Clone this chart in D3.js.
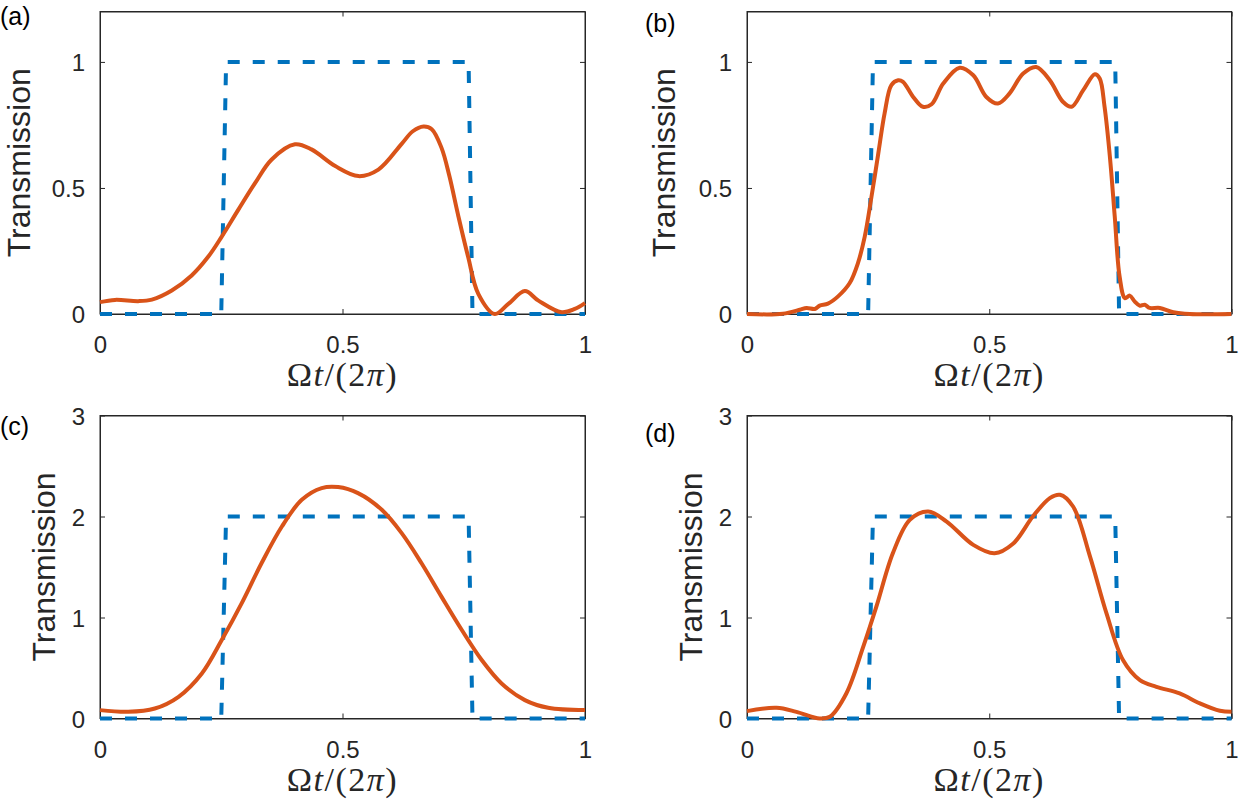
<!DOCTYPE html>
<html>
<head>
<meta charset="utf-8">
<script src="https://cdn.jsdelivr.net/npm/d3@7/dist/d3.min.js"></script>
<style>
  body { margin: 0; background: #fff; }
  svg { display: block; }
</style>
</head>
<body>
<div id="vis-container"></div>
<script>
// ---- data ----
var xTicks = [0, 0.5, 1]
var xTickLabels = ['0', '0.5', '1']
var yTicksTop = [0, 0.5, 1]
var yTickLabelsTop = ['0', '0.5', '1']
var yTicksBottom = [0, 1, 2, 3]
var yTickLabelsBottom = ['0', '1', '2', '3']
var panelNames = ['(a)', '(b)', '(c)', '(d)']
var yLabelText = 'Transmission'

// dashed target pulse
var stepT = [0, 0.25, 0.26, 0.76, 0.768, 1]
var stepTop = [0, 0, 1, 1, 0, 0]
var stepBottom = [0, 0, 2, 2, 0, 0]

// (a)
var tA = [0, 0.031, 0.079, 0.107, 0.148, 0.189, 0.223, 0.251, 0.285, 0.32, 0.354, 0.402, 0.436, 0.485, 0.533, 0.574, 0.622, 0.645, 0.667, 0.684, 0.704, 0.72, 0.739, 0.759, 0.78, 0.814, 0.842, 0.876, 0.904, 0.952, 0.979, 1]
var vA = [0.047, 0.056, 0.051, 0.057, 0.093, 0.153, 0.227, 0.307, 0.413, 0.52, 0.613, 0.673, 0.653, 0.587, 0.547, 0.573, 0.675, 0.725, 0.744, 0.733, 0.66, 0.55, 0.387, 0.227, 0.08, 0.0, 0.04, 0.091, 0.053, 0.007, 0.02, 0.043]

// (b)
var tB = [0, 0.074, 0.109, 0.123, 0.14, 0.15, 0.167, 0.188, 0.212, 0.229, 0.243, 0.257, 0.271, 0.284, 0.298, 0.312, 0.322, 0.343, 0.363, 0.381, 0.405, 0.439, 0.467, 0.494, 0.518, 0.542, 0.57, 0.597, 0.625, 0.652, 0.67, 0.694, 0.718, 0.728, 0.738, 0.749, 0.759, 0.769, 0.78, 0.79, 0.8, 0.811, 0.821, 0.831, 0.852, 0.88, 0.914, 1]
var vB = [0, 0.001, 0.017, 0.024, 0.02, 0.033, 0.041, 0.07, 0.123, 0.202, 0.307, 0.466, 0.637, 0.796, 0.908, 0.927, 0.921, 0.861, 0.822, 0.832, 0.914, 0.977, 0.947, 0.861, 0.835, 0.875, 0.954, 0.98, 0.927, 0.842, 0.822, 0.888, 0.951, 0.934, 0.822, 0.624, 0.387, 0.149, 0.063, 0.073, 0.05, 0.033, 0.037, 0.024, 0.024, 0.007, 0, 0]

// (c)
var tC = [0, 0.058, 0.113, 0.162, 0.21, 0.251, 0.292, 0.333, 0.375, 0.416, 0.457, 0.491, 0.532, 0.581, 0.622, 0.663, 0.704, 0.746, 0.787, 0.828, 0.876, 0.924, 1]
var vC = [0.083, 0.066, 0.099, 0.215, 0.446, 0.777, 1.14, 1.537, 1.901, 2.165, 2.281, 2.291, 2.231, 2.066, 1.835, 1.537, 1.207, 0.876, 0.579, 0.347, 0.182, 0.106, 0.083]

// (d)
var tD = [0, 0.061, 0.102, 0.15, 0.171, 0.205, 0.24, 0.267, 0.301, 0.336, 0.374, 0.412, 0.467, 0.511, 0.549, 0.59, 0.625, 0.646, 0.673, 0.708, 0.742, 0.776, 0.811, 0.845, 0.893, 0.935, 0.976, 1]
var vD = [0.073, 0.106, 0.066, 0, 0.017, 0.248, 0.711, 1.107, 1.636, 1.967, 2.05, 1.95, 1.719, 1.636, 1.73, 2.0, 2.182, 2.215, 2.099, 1.603, 1.041, 0.579, 0.38, 0.314, 0.248, 0.149, 0.076, 0.066]

// ---- layout ----
var W = 1240, H = 805
var axisColor = '#262626'
var blue = '#0072BD', orange = '#D95319'

var panels = [
  { name: panelNames[0], left: 100, right: 585, top: 11.5, bottom: 314, ymax: 1.2, yt: yTicksTop, ytl: yTickLabelsTop, step: stepTop, t: tA, v: vA, lx: 0, ly: 25, ylabOff: -70 },
  { name: panelNames[1], left: 747, right: 1231.5, top: 11.5, bottom: 314, ymax: 1.2, yt: yTicksTop, ytl: yTickLabelsTop, step: stepTop, t: tB, v: vB, lx: 645, ly: 32, ylabOff: -72 },
  { name: panelNames[2], left: 100, right: 585, top: 415.5, bottom: 718.5, ymax: 3, yt: yTicksBottom, ytl: yTickLabelsBottom, step: stepBottom, t: tC, v: vC, lx: 0, ly: 435, ylabOff: -45 },
  { name: panelNames[3], left: 747, right: 1231.5, top: 415.5, bottom: 718.5, ymax: 3, yt: yTicksBottom, ytl: yTickLabelsBottom, step: stepBottom, t: tD, v: vD, lx: 645, ly: 442, ylabOff: -45 }
]

var svg = d3.select('#vis-container').append('svg')
    .attr('width', W)
    .attr('height', H)

svg.append('rect').attr('width', W).attr('height', H).attr('fill', '#fff')

panels.forEach(function (p) {
  var xScale = d3.scaleLinear().domain([0, 1]).range([p.left, p.right])
  var yScale = d3.scaleLinear().domain([0, p.ymax]).range([p.bottom, p.top])
  var g = svg.append('g')

  // box
  g.append('rect')
    .attr('x', p.left).attr('y', p.top)
    .attr('width', p.right - p.left).attr('height', p.bottom - p.top)
    .attr('fill', 'none')
    .attr('stroke', axisColor)
    .attr('stroke-width', 1)

  // axes with inward ticks
  var xAxis = g.append('g')
      .attr('transform', 'translate(0,' + p.bottom + ')')
      .call(d3.axisBottom(xScale).tickValues(xTicks).tickFormat(function (d, i) { return xTickLabels[i] }).tickSize(-5).tickSizeOuter(0))
  xAxis.selectAll('text').attr('y', 39).attr('dy', null)

  g.append('g')
      .attr('transform', 'translate(0,' + p.top + ')')
      .call(d3.axisTop(xScale).tickValues(xTicks).tickFormat('').tickSize(-5).tickSizeOuter(0))

  var yAxis = g.append('g')
      .attr('transform', 'translate(' + p.left + ',0)')
      .call(d3.axisLeft(yScale).tickValues(p.yt).tickFormat(function (d, i) { return p.ytl[i] }).tickSize(-5).tickSizeOuter(0).tickPadding(15))
  yAxis.selectAll('text').attr('dy', '0.36em')

  g.append('g')
      .attr('transform', 'translate(' + p.right + ',0)')
      .call(d3.axisRight(yScale).tickValues(p.yt).tickFormat('').tickSize(-5).tickSizeOuter(0))

  g.selectAll('.domain').attr('stroke', axisColor)
  g.selectAll('.tick line').attr('stroke', axisColor)
  g.selectAll('.tick text')
    .attr('fill', axisColor)
    .style('font-family', '"Liberation Sans", Arial, sans-serif')
    .style('font-size', '24px')

  // dashed pulse
  var stepData = stepT.map(function (t, i) { return [t, p.step[i]] })
  g.append('path')
    .datum(stepData)
    .attr('d', d3.line().x(function (d) { return xScale(d[0]) }).y(function (d) { return yScale(d[1]) }))
    .attr('fill', 'none')
    .attr('stroke', blue)
    .attr('stroke-width', 4)
    .attr('stroke-dasharray', '12,13')

  // transmission curve
  var curveData = p.t.map(function (t, i) { return [t, p.v[i]] })
  g.append('path')
    .datum(curveData)
    .attr('d', d3.line().curve(d3.curveCatmullRom.alpha(0.5)).x(function (d) { return xScale(d[0]) }).y(function (d) { return yScale(d[1]) }))
    .attr('fill', 'none')
    .attr('stroke', orange)
    .attr('stroke-width', 4)
    .attr('stroke-linejoin', 'round')

  // y label
  g.append('text')
    .attr('transform', 'translate(' + (p.left + p.ylabOff) + ',' + ((p.top + p.bottom) / 2) + ') rotate(-90)')
    .attr('text-anchor', 'middle')
    .attr('fill', axisColor)
    .style('font-family', '"Liberation Sans", Arial, sans-serif')
    .style('font-size', '32px')
    .text(yLabelText)

  // x label  Ωt/(2π)
  var xl = g.append('text')
    .attr('x', (p.left + p.right) / 2)
    .attr('y', p.bottom + 72)
    .attr('text-anchor', 'middle')
    .attr('fill', axisColor)
    .style('font-family', '"Liberation Serif", "DejaVu Serif", serif')
    .style('font-size', '34px')
    .style('letter-spacing', '1.5px')
  xl.append('tspan').text('\u03A9')
  xl.append('tspan').style('font-style', 'italic').text('t')
  xl.append('tspan').text('/(2')
  xl.append('tspan').style('font-style', 'italic').text('\u03C0')
  xl.append('tspan').text(')')

  // panel label
  svg.append('text')
    .attr('x', p.lx)
    .attr('y', p.ly)
    .attr('fill', '#000')
    .style('font-family', '"Liberation Sans", Arial, sans-serif')
    .style('font-size', '25px')
    .text(p.name)
})
</script>
</body>
</html>
